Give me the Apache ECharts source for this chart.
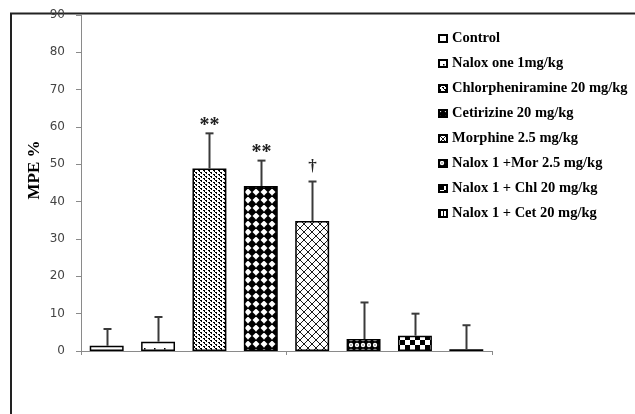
<!DOCTYPE html>
<html><head><meta charset="utf-8">
<script src="https://cdn.jsdelivr.net/npm/echarts@6/dist/echarts.min.js"></script>
<style>html,body{margin:0;padding:0;background:#fff}#c{width:635px;height:414px}</style>
</head><body><div id="c"></div>
<script>
const categories = ['Control','Naloxone 1mg/kg','Chlorpheniramine 20 mg/kg','Cetirizine 20 mg/kg','Morphine 2.5 mg/kg','Nalox 1 +Mor 2.5 mg/kg','Nalox 1 + Chl 20 mg/kg','Nalox 1 + Cet 20 mg/kg'];
const legendNames = ['Control','Nalox one 1mg/kg','Chlorpheniramine 20 mg/kg','Cetirizine 20 mg/kg','Morphine 2.5 mg/kg','Nalox 1 +Mor 2.5 mg/kg','Nalox 1 + Chl 20 mg/kg','Nalox 1 + Cet 20 mg/kg'];
const means = [1.4, 2.5, 48.9, 44.2, 34.8, 3.2, 4.1, 0.5];
const errTops = [5.9, 9.1, 58.3, 51.0, 45.4, 13.0, 10.0, 6.9];
const marks = ['', '', '**', '**', '†', '', '', ''];
const yTicks = [0, 10, 20, 30, 40, 50, 60, 70, 80, 90];

function tile(w, h, draw) {
  const c = document.createElement('canvas');
  c.width = w; c.height = h;
  const g = c.getContext('2d');
  g.fillStyle = '#fff'; g.fillRect(0, 0, w, h);
  g.fillStyle = '#000'; g.strokeStyle = '#000';
  draw(g);
  return { image: c, repeat: 'repeat' };
}
const patterns = [
  '#ffffff',
  tile(10, 8, g => { g.fillRect(4, 4, 1.5, 1.5); }),
  tile(5, 4, g => { g.fillRect(0, 0, 2, 1); g.fillRect(1, 1, 1, 1); g.fillRect(3, 2, 2, 1); g.fillRect(4, 3, 1, 1); }),
  tile(8, 8, g => { g.beginPath(); g.moveTo(4, -0.5); g.lineTo(8.5, 4); g.lineTo(4, 8.5); g.lineTo(-0.5, 4); g.closePath(); g.fill(); }),
  tile(8, 8, g => { g.lineWidth = 0.9; g.beginPath(); g.moveTo(0, 0); g.lineTo(8, 8); g.moveTo(8, 0); g.lineTo(0, 8); g.stroke(); }),
  tile(6, 6, g => { g.fillRect(0, 0, 6, 6); g.fillStyle = '#fff'; g.beginPath(); g.arc(3, 3, 2.2, 0, Math.PI * 2); g.fill(); g.fillStyle = '#000'; g.fillRect(2.5, 2.5, 1, 1); }),
  tile(10, 10, g => { g.fillRect(0, 0, 5, 5); g.fillRect(5, 5, 5, 5); }),
  tile(3, 3, g => { g.fillRect(1, 0, 1, 3); })
];

const series = categories.map((c, i) => ({
  name: legendNames[i],
  type: 'bar',
  stack: 'all',
  barCategoryGap: '34%',
  data: categories.map((_, j) => j === i ? means[i] : '-'),
  itemStyle: { color: patterns[i], borderColor: '#000', borderWidth: 1.5 },
  emphasis: { disabled: true },
  animation: false
}));

series.push({
  type: 'custom',
  name: 'err',
  animation: false,
  silent: true,
  z: 5,
  data: categories.map((c, i) => [i, means[i], errTops[i], marks[i]]),
  renderItem: function (params, api) {
    const x = api.value(0);
    const p0 = api.coord([x, api.value(1)]);
    const p1 = api.coord([x, api.value(2)]);
    const cx = Math.round(p0[0]) + 0.5;
    const children = [
      { type: 'line', shape: { x1: cx, y1: p0[1], x2: cx, y2: p1[1] }, style: { stroke: '#3a3a3a', lineWidth: 2 } },
      { type: 'line', shape: { x1: cx - 4, y1: p1[1], x2: cx + 4, y2: p1[1] }, style: { stroke: '#3a3a3a', lineWidth: 2 } }
    ];
    const m = api.value(3);
    if (m) {
      const isStar = m.indexOf('*') >= 0;
      children.push({ type: 'text', style: {
        text: m, x: cx, y: p1[1] - (isStar ? 8 : 15), align: 'center', verticalAlign: 'middle',
        font: (isStar ? 'bold 20px' : 'bold 17px') + ' "Liberation Serif"', fill: '#222' } });
    }
    return { type: 'group', children };
  }
});

const chart = echarts.init(document.getElementById('c'), null, { renderer: 'canvas' });
chart.setOption({
  animation: false,
  backgroundColor: '#fff',
  grid: { left: 81, right: 143, top: 15, bottom: 63, containLabel: false },
  legend: {
    orient: 'vertical',
    left: 438,
    top: 31,
    padding: 0,
    itemGap: 10,
    itemWidth: 8,
    itemHeight: 7,
    icon: 'rect',
    selectedMode: false,
    data: legendNames,
    textStyle: { fontFamily: 'Liberation Serif', fontSize: 14.5, fontWeight: 'bold', color: '#000', lineHeight: 14 }
  },
  xAxis: {
    type: 'category',
    data: categories,
    axisLine: { lineStyle: { color: '#8a8a8a', width: 1 } },
    axisTick: { show: true, length: 4, lineStyle: { color: '#8a8a8a' } },
    axisLabel: { show: false }
  },
  yAxis: {
    type: 'value',
    min: yTicks[0], max: yTicks[yTicks.length - 1], interval: 10,
    axisLine: { show: true, lineStyle: { color: '#8a8a8a', width: 1 } },
    axisTick: { show: true, length: 5, lineStyle: { color: '#8a8a8a' } },
    splitLine: { show: false },
    axisLabel: { margin: 16, color: '#444', fontFamily: 'DejaVu Sans', fontSize: 12 }
  },
  graphic: [
    { type: 'rect', shape: { x: 11, y: 13.5, width: 700, height: 500 }, style: { fill: 'none', stroke: '#222', lineWidth: 2 }, silent: true, z: -1 },
    { type: 'text', x: 35, y: 170, rotation: Math.PI / 2, style: { text: 'MPE %', font: 'bold 17px "Liberation Serif"', fill: '#000', align: 'center', verticalAlign: 'middle' } }
  ],
  series
});
</script></body></html>
